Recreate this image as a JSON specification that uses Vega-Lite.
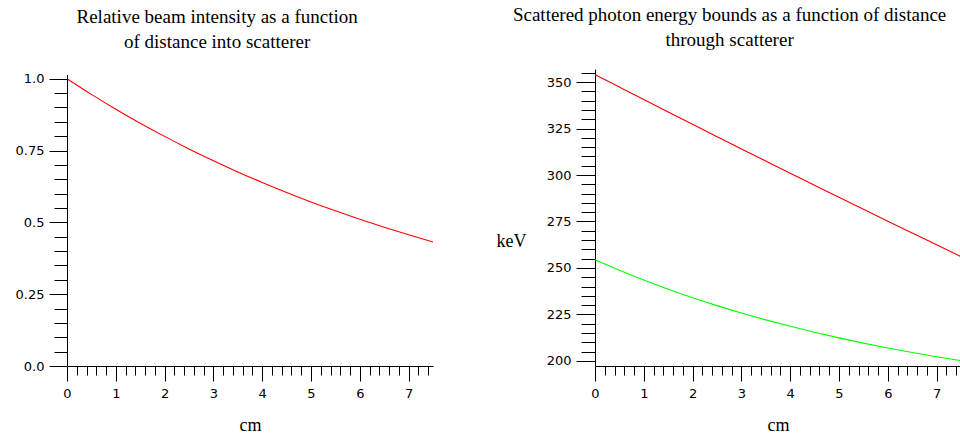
{
  "$schema": "https://vega.github.io/schema/vega-lite/v6.json",
  "padding": {"left": 15, "top": 5, "right": 0, "bottom": 0},
  "background": "white",
  "spacing": 60,
  "config": {
    "view": {"stroke": null},
    "axis": {
      "domainColor": "black",
      "domainWidth": 1,
      "tickColor": "black",
      "tickWidth": 1,
      "grid": false,
      "labelFont": "DejaVu Sans",
      "labelFontSize": 13,
      "labelColor": "black",
      "labelOverlap": false,
      "labelBound": false,
      "labelFlush": false,
      "titleFont": "Liberation Serif",
      "titleFontSize": 18,
      "titleFontWeight": "normal",
      "titleColor": "black"
    },
    "title": {
      "font": "Liberation Serif",
      "fontSize": 19,
      "fontWeight": "normal",
      "color": "black",
      "anchor": "middle",
      "frame": "bounds",
      "lineHeight": 25
    }
  },
  "datasets": {
    "intensity": [
      {"cm": 0, "rel": 1.0},
      {"cm": 0.5, "rel": 0.9455},
      {"cm": 1, "rel": 0.894},
      {"cm": 1.5, "rel": 0.8453},
      {"cm": 2, "rel": 0.7993},
      {"cm": 2.5, "rel": 0.7557},
      {"cm": 3, "rel": 0.7146},
      {"cm": 3.5, "rel": 0.6757},
      {"cm": 4, "rel": 0.6389},
      {"cm": 4.5, "rel": 0.6041},
      {"cm": 5, "rel": 0.5712},
      {"cm": 5.5, "rel": 0.5401},
      {"cm": 6, "rel": 0.5107},
      {"cm": 6.5, "rel": 0.4829},
      {"cm": 7, "rel": 0.4566},
      {"cm": 7.5, "rel": 0.4317}
    ],
    "energy": [
      {"cm": 0, "bound": "upper", "keV": 354.0},
      {"cm": 0.5, "bound": "upper", "keV": 347.27},
      {"cm": 1, "bound": "upper", "keV": 340.56},
      {"cm": 1.5, "bound": "upper", "keV": 333.89},
      {"cm": 2, "bound": "upper", "keV": 327.24},
      {"cm": 2.5, "bound": "upper", "keV": 320.63},
      {"cm": 3, "bound": "upper", "keV": 314.04},
      {"cm": 3.5, "bound": "upper", "keV": 307.49},
      {"cm": 4, "bound": "upper", "keV": 300.96},
      {"cm": 4.5, "bound": "upper", "keV": 294.47},
      {"cm": 5, "bound": "upper", "keV": 288.0},
      {"cm": 5.5, "bound": "upper", "keV": 281.57},
      {"cm": 6, "bound": "upper", "keV": 275.16},
      {"cm": 6.5, "bound": "upper", "keV": 268.79},
      {"cm": 7, "bound": "upper", "keV": 262.44},
      {"cm": 7.5, "bound": "upper", "keV": 256.13},
      {"cm": 0, "bound": "lower", "keV": 254.4},
      {"cm": 0.5, "bound": "lower", "keV": 248.76},
      {"cm": 1, "bound": "lower", "keV": 243.51},
      {"cm": 1.5, "bound": "lower", "keV": 238.6},
      {"cm": 2, "bound": "lower", "keV": 234.03},
      {"cm": 2.5, "bound": "lower", "keV": 229.77},
      {"cm": 3, "bound": "lower", "keV": 225.79},
      {"cm": 3.5, "bound": "lower", "keV": 222.09},
      {"cm": 4, "bound": "lower", "keV": 218.64},
      {"cm": 4.5, "bound": "lower", "keV": 215.42},
      {"cm": 5, "bound": "lower", "keV": 212.42},
      {"cm": 5.5, "bound": "lower", "keV": 209.61},
      {"cm": 6, "bound": "lower", "keV": 207.0},
      {"cm": 6.5, "bound": "lower", "keV": 204.57},
      {"cm": 7, "bound": "lower", "keV": 202.3},
      {"cm": 7.5, "bound": "lower", "keV": 200.18}
    ]
  },
  "hconcat": [
    {
      "width": 366,
      "height": 297,
      "title": {"text": ["Relative beam intensity as a function", "of distance into scatterer"], "offset": 17, "dx": -8},
      "layer": [
        {
          "data": {"name": "intensity"},
          "mark": {"type": "line", "color": "#ff0000", "strokeWidth": 1.1, "interpolate": "monotone"},
          "encoding": {
            "x": {
              "field": "cm", "type": "quantitative",
              "scale": {"domain": [0, 7.5], "nice": false, "zero": false},
              "axis": {
                "title": "cm",
                "titleY": 59, "titleBaseline": "middle",
                "values": [0,0.2,0.4,0.6,0.8,1,1.2,1.4,1.6,1.8,2,2.2,2.4,2.6,2.8,3,3.2,3.4,3.6,3.8,4,4.2,4.4,4.6,4.8,5,5.2,5.4,5.6,5.8,6,6.2,6.4,6.6,6.8,7,7.2,7.4],
                "labelExpr": "abs(datum.value - round(datum.value)) < 1e-6 ? format(datum.value, 'd') : ''",
                "tickSize": {"condition": {"test": "abs(datum.value - round(datum.value)) < 1e-6", "value": 15}, "value": 9},
                "labelPadding": {"condition": {"test": "abs(datum.value - round(datum.value)) < 1e-6", "value": 6}, "value": 12}
              }
            },
            "y": {
              "field": "rel", "type": "quantitative",
              "scale": {"domain": [0, 1.0338], "nice": false, "zero": false},
              "axis": {
                "title": null,
                "domain": false,
                "values": [0,0.05,0.1,0.15,0.2,0.25,0.3,0.35,0.4,0.45,0.5,0.55,0.6,0.65,0.7,0.75,0.8,0.85,0.9,0.95,1],
                "labelExpr": "abs(datum.value*4 - round(datum.value*4)) < 1e-6 ? (datum.value == 0 ? '0.0' : datum.value == 1 ? '1.0' : format(datum.value, '')) : ''",
                "tickSize": {"condition": {"test": "abs(datum.value*4 - round(datum.value*4)) < 1e-6", "value": 18}, "value": 13},
                "labelPadding": 5
              }
            }
          }
        },
        {
          "data": {"name": "intensity"},
          "mark": {"type": "rule", "color": "black", "strokeWidth": 1, "xOffset": 0.5},
          "encoding": {
            "x": {
              "datum": 0, "type": "quantitative",
              "axis": {
                "title": "cm",
                "titleY": 59, "titleBaseline": "middle",
                "values": [0,0.2,0.4,0.6,0.8,1,1.2,1.4,1.6,1.8,2,2.2,2.4,2.6,2.8,3,3.2,3.4,3.6,3.8,4,4.2,4.4,4.6,4.8,5,5.2,5.4,5.6,5.8,6,6.2,6.4,6.6,6.8,7,7.2,7.4],
                "labelExpr": "abs(datum.value - round(datum.value)) < 1e-6 ? format(datum.value, 'd') : ''",
                "tickSize": {"condition": {"test": "abs(datum.value - round(datum.value)) < 1e-6", "value": 15}, "value": 9},
                "labelPadding": {"condition": {"test": "abs(datum.value - round(datum.value)) < 1e-6", "value": 6}, "value": 12}
              }
            },
            "y": {
              "datum": 0, "type": "quantitative",
              "axis": {
                "title": null,
                "domain": false,
                "values": [0,0.05,0.1,0.15,0.2,0.25,0.3,0.35,0.4,0.45,0.5,0.55,0.6,0.65,0.7,0.75,0.8,0.85,0.9,0.95,1],
                "labelExpr": "abs(datum.value*4 - round(datum.value*4)) < 1e-6 ? (datum.value == 0 ? '0.0' : datum.value == 1 ? '1.0' : format(datum.value, '')) : ''",
                "tickSize": {"condition": {"test": "abs(datum.value*4 - round(datum.value*4)) < 1e-6", "value": 18}, "value": 13},
                "labelPadding": 5
              }
            },
            "y2": {"datum": 1.0116}
          }
        }
      ]
    },
    {
      "width": 366,
      "height": 297,
      "title": {"text": ["Scattered photon energy bounds as a function of distance", "through scatterer"], "offset": 17},
      "data": {"name": "energy"},
      "mark": {"type": "line", "strokeWidth": 1.1, "interpolate": "monotone"},
      "encoding": {
        "x": {
          "field": "cm", "type": "quantitative",
          "scale": {"domain": [0, 7.5], "nice": false, "zero": false},
          "axis": {
            "title": "cm",
            "titleY": 59, "titleBaseline": "middle",
            "values": [0,0.2,0.4,0.6,0.8,1,1.2,1.4,1.6,1.8,2,2.2,2.4,2.6,2.8,3,3.2,3.4,3.6,3.8,4,4.2,4.4,4.6,4.8,5,5.2,5.4,5.6,5.8,6,6.2,6.4,6.6,6.8,7,7.2,7.4],
            "labelExpr": "abs(datum.value - round(datum.value)) < 1e-6 ? format(datum.value, 'd') : ''",
            "tickSize": {"condition": {"test": "abs(datum.value - round(datum.value)) < 1e-6", "value": 15}, "value": 9},
            "labelPadding": {"condition": {"test": "abs(datum.value - round(datum.value)) < 1e-6", "value": 6}, "value": 12}
          }
        },
        "y": {
          "field": "keV", "type": "quantitative",
          "scale": {"domain": [197.3, 357], "nice": false, "zero": false},
          "axis": {
            "title": "keV",
            "titleAngle": 0,
            "titleX": -84, "titleY": 172,
            "titleAlign": "center", "titleBaseline": "middle",
            "values": [200,205,210,215,220,225,230,235,240,245,250,255,260,265,270,275,280,285,290,295,300,305,310,315,320,325,330,335,340,345,350,355],
            "labelExpr": "datum.value % 25 == 0 ? format(datum.value, 'd') : ''",
            "tickSize": {"condition": {"test": "datum.value % 25 == 0", "value": 19}, "value": 14},
            "labelPadding": 5
          }
        },
        "color": {
          "field": "bound", "type": "nominal",
          "scale": {"domain": ["upper", "lower"], "range": ["#ff0000", "#00ff00"]},
          "legend": null
        }
      }
    }
  ]
}
